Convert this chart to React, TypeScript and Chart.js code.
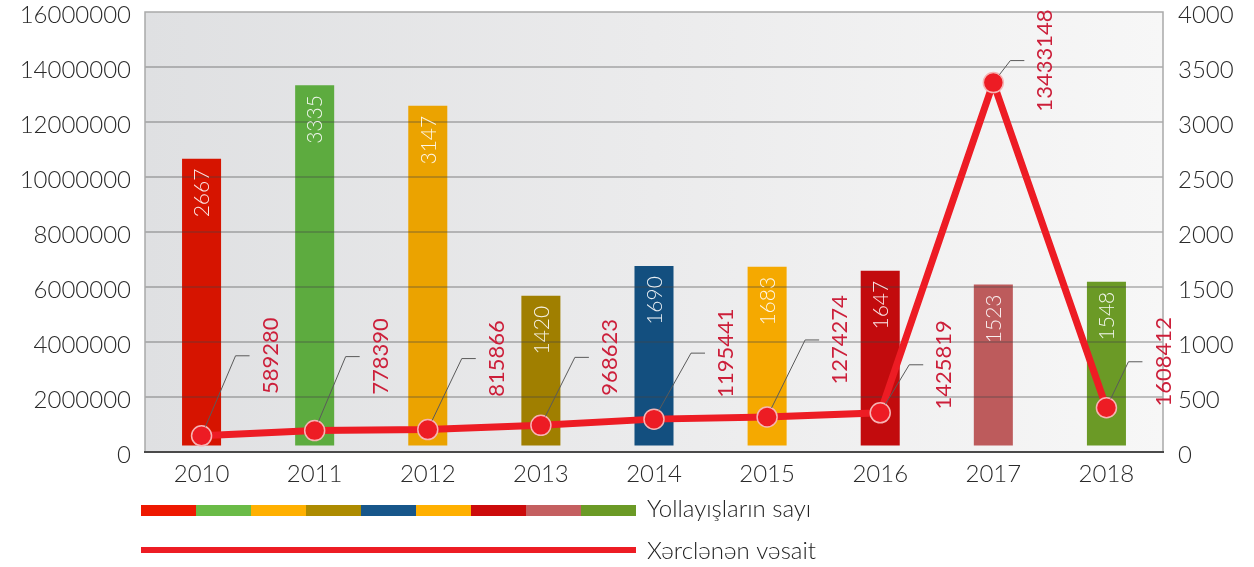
import React, { useEffect, useRef } from "react";
import { Chart, registerables } from "chart.js";

Chart.register(...registerables);

const categories = ["2010", "2011", "2012", "2013", "2014", "2015", "2016", "2017", "2018"];
const tripCounts = [2667, 3335, 3147, 1420, 1690, 1683, 1647, 1523, 1548];
const spending = [589280, 778390, 815866, 968623, 1195441, 1274274, 1425819, 13433148, 1608412];
const legendLabels = ["Yollayışların sayı", "Xərclənən vəsait"];

const barColors = ["#d61400", "#5dab3f", "#eba300", "#a07f00", "#134f7f", "#f5a900", "#c20b0d", "#bd5b5c", "#6b9a26"];
const legendColors = ["#ee1800", "#6abb47", "#ffb000", "#ad8b00", "#17568a", "#ffb000", "#cc0b0b", "#c45f60", "#6b9a26"];
const leaderRise = [80, 74, 71, 68, 66, 77, 48, 22, 46];
const leaderRun = [34, 31, 34, 34, 37, 38, 29, 17, 22];

const FONT = "Lato, 'Open Sans', sans-serif";
const LINE_RED = "#ed1c24";

const overlayPlugin = {
  id: "overlay",
  beforeDraw(chart: any) {
    const { ctx, chartArea: a } = chart;
    ctx.save();
    const g = ctx.createLinearGradient(a.left, 0, a.right, 0);
    g.addColorStop(0, "#dfe0e2");
    g.addColorStop(0.5, "#ebebec");
    g.addColorStop(1, "#f7f7f7");
    ctx.fillStyle = g;
    ctx.fillRect(a.left, a.top, a.right - a.left, a.bottom - a.top);
    ctx.restore();
  },
  afterDatasetDraw(chart: any, args: any) {
    if (args.meta.type !== "bar") return;
    const { ctx, chartArea: a } = chart;
    const ys = chart.scales.y;
    ctx.save();
    ctx.strokeStyle = "rgba(70,70,70,0.42)";
    ctx.lineWidth = 1.3;
    ys.ticks.forEach((_t: any, i: number) => {
      const y = ys.getPixelForTick(i);
      if (Math.abs(y - a.bottom) < 2 || Math.abs(y - a.top) < 2) return;
      ctx.beginPath();
      ctx.moveTo(a.left, y);
      ctx.lineTo(a.right, y);
      ctx.stroke();
    });
    ctx.strokeStyle = "#a9a9a9";
    ctx.lineWidth = 1.5;
    ctx.beginPath();
    ctx.moveTo(a.left, a.bottom);
    ctx.lineTo(a.left, a.top);
    ctx.lineTo(a.right, a.top);
    ctx.lineTo(a.right, a.bottom);
    ctx.stroke();
    ctx.strokeStyle = "#4a4a4a";
    ctx.lineWidth = 2;
    ctx.beginPath();
    ctx.moveTo(a.left - 1, a.bottom);
    ctx.lineTo(a.right + 1, a.bottom);
    ctx.stroke();
    ctx.fillStyle = "rgba(255,255,255,0.9)";
    ctx.font = `300 21px ${FONT}`;
    ctx.textAlign = "right";
    ctx.textBaseline = "middle";
    args.meta.data.forEach((bar: any, i: number) => {
      ctx.save();
      ctx.translate(bar.x, bar.y + 10);
      ctx.rotate(-Math.PI / 2);
      ctx.fillText(String(tripCounts[i]), 0, 1);
      ctx.restore();
    });
    ctx.restore();
  },
  afterDatasetsDraw(chart: any) {
    const { ctx } = chart;
    const meta = chart.getDatasetMeta(0);
    ctx.save();
    meta.data.forEach((pt: any, i: number) => {
      const hy = pt.y - leaderRise[i];
      const dx = pt.x + leaderRun[i];
      const vx = dx - pt.x;
      const vy = hy - pt.y;
      const len = Math.sqrt(vx * vx + vy * vy);
      const sx = pt.x + (vx / len) * 10;
      const sy = pt.y + (vy / len) * 10;
      const hEnd = dx + 14;
      ctx.strokeStyle = "#5a5a5a";
      ctx.lineWidth = 1;
      ctx.beginPath();
      ctx.moveTo(sx, sy);
      ctx.lineTo(dx, hy);
      ctx.lineTo(hEnd, hy);
      ctx.stroke();
      ctx.save();
      ctx.translate(hEnd + 20, hy);
      ctx.rotate(-Math.PI / 2);
      ctx.fillStyle = "#cc1f3a";
      ctx.font = `400 22px ${FONT}`;
      ctx.textAlign = "center";
      ctx.textBaseline = "middle";
      ctx.fillText(String(spending[i]), 0, 1);
      ctx.restore();
    });
    ctx.restore();
  },
  afterDraw(chart: any) {
    const { ctx } = chart;
    ctx.save();
    const x0 = 141;
    const seg = 55;
    legendColors.forEach((c, i) => {
      ctx.fillStyle = c;
      ctx.fillRect(x0 + i * seg, 505, seg, 11);
    });
    ctx.fillStyle = LINE_RED;
    ctx.fillRect(x0, 547, seg * legendColors.length, 6);
    ctx.fillStyle = "#222";
    ctx.font = `300 24px ${FONT}`;
    ctx.textAlign = "left";
    ctx.textBaseline = "middle";
    ctx.fillText(legendLabels[0], 647, 509);
    ctx.fillText(legendLabels[1], 647, 551);
    ctx.restore();
  },
};

const plain = (v: any) => String(v);

export default function App() {
  const ref = useRef<HTMLCanvasElement>(null);
  useEffect(() => {
    if (!ref.current) return;
    const tickFont = { family: FONT, size: 24, weight: "300" as any };
    const chart = new Chart(ref.current, {
      type: "bar",
      data: {
        labels: categories,
        datasets: [
          {
            type: "line",
            label: legendLabels[1],
            data: spending,
            yAxisID: "y",
            order: 0,
            borderColor: LINE_RED,
            borderWidth: 7,
            pointRadius: 10,
            pointBackgroundColor: LINE_RED,
            pointBorderColor: "#f6b4b4",
            pointBorderWidth: 1.5,
            tension: 0,
          } as any,
          {
            type: "bar",
            label: legendLabels[0],
            data: tripCounts,
            yAxisID: "y1",
            order: 1,
            base: 60,
            backgroundColor: barColors,
            barPercentage: 0.345,
            categoryPercentage: 1,
          } as any,
        ],
      },
      options: {
        responsive: false,
        animation: false,
        devicePixelRatio: 1,
        layout: { padding: { top: 12, left: 0, right: 0, bottom: 0 } },
        plugins: { legend: { display: false }, tooltip: { enabled: false } },
        scales: {
          x: {
            type: "category",
            grid: { display: false, drawTicks: false },
            border: { display: false },
            ticks: { font: tickFont, color: "#2a2a2a", padding: 8, maxRotation: 0 },
            afterFit: (s: any) => {
              s.height = 115;
              s.paddingLeft = 0;
              s.paddingRight = 0;
            },
          },
          y: {
            position: "left",
            min: 0,
            max: 16000000,
            grid: { display: false, drawTicks: false },
            border: { display: false },
            ticks: { stepSize: 2000000, font: tickFont, color: "#2a2a2a", padding: 14, labelOffset: 3, callback: plain },
            afterFit: (s: any) => {
              s.width = 145;
              s.paddingTop = 0;
              s.paddingBottom = 0;
            },
          },
          y1: {
            position: "right",
            min: 0,
            max: 4000,
            grid: { display: false, drawTicks: false },
            border: { display: false },
            ticks: { stepSize: 500, font: tickFont, color: "#2a2a2a", padding: 15, labelOffset: 3, callback: plain },
            afterFit: (s: any) => {
              s.width = 91;
              s.paddingTop = 0;
              s.paddingBottom = 0;
            },
          },
        },
      } as any,
      plugins: [overlayPlugin],
    });
    return () => chart.destroy();
  }, []);
  return (
    <div style={{ position: "absolute", left: 0, top: 0, width: 1254, height: 567, background: "#fff" }}>
      <canvas ref={ref} width={1254} height={567} style={{ width: 1254, height: 567, display: "block" }} />
    </div>
  );
}
